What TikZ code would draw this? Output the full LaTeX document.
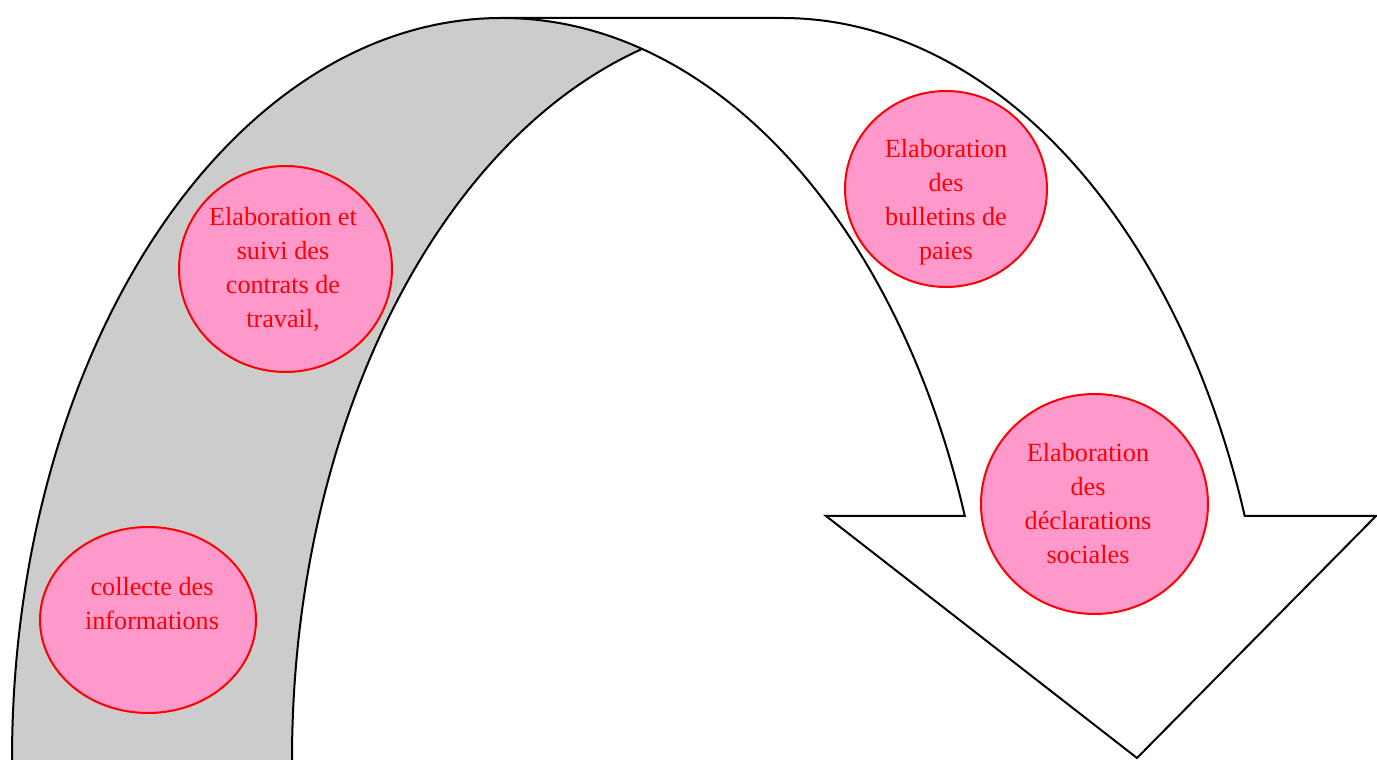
\documentclass[tikz,border=0pt]{standalone}
\usepackage{fontspec}
\setmainfont{Liberation Serif}
\usetikzlibrary{shapes.geometric}
\definecolor{bandgrey}{HTML}{CCCCCC}
\definecolor{bubblepink}{HTML}{FF99CC}
\definecolor{bubblered}{HTML}{FF0000}

\begin{document}
\begin{tikzpicture}[
  x=0.5pt, y=0.5pt,
  band/.style={draw=black, line width=1pt, line join=miter},
  bubble/.style={ellipse, draw=bubblered, fill=bubblepink, line width=1pt, inner sep=0pt},
  txt/.style={text=bubblered, align=center, font=\fontsize{13.1}{17}\selectfont}
]
\useasboundingbox (0,0) rectangle (1377,760);

% shaded tail of the curved arrow
\fill[bandgrey] (12,0) arc[start angle=180, end angle=73.4, x radius=245pt, y radius=371pt]
  arc[start angle=106.6, end angle=180, x radius=245pt, y radius=371pt] -- cycle;

% outline of the curved arrow
\draw[band] (12,0) arc[start angle=180, end angle=90, x radius=245pt, y radius=371pt]
  -- (782,742) arc[start angle=90, end angle=19.2, x radius=245pt, y radius=371pt]
  -- (1376,244) -- (1137,2) -- (826,244) -- (964.8,244)
  arc[start angle=19.2, end angle=90, x radius=245pt, y radius=371pt];
\draw[band] (292,0) arc[start angle=180, end angle=106.6, x radius=245pt, y radius=371pt];

% bubbles
\node[bubble, minimum width=108pt, minimum height=93pt] (collecte) at (148,140) {};
\node[txt] (collecteLbl) at (152,156) {collecte des\\informations};

\node[bubble, minimum width=106.5pt, minimum height=103pt] (contrats) at (285.5,491) {};
\node[txt] (contratsLbl) at (283,491) {Elaboration et\\suivi des\\contrats de\\travail,};

\node[bubble, minimum width=101pt, minimum height=98pt] (bulletins) at (946,571) {};
\node[txt] (bulletinsLbl) at (946,558) {Elaboration\\des\\bulletins de\\paies};

\node[bubble, minimum width=113.5pt, minimum height=110pt] (declarations) at (1094.5,256) {};
\node[txt] (declarationsLbl) at (1088,256) {Elaboration\\des\\déclarations\\sociales};
\end{tikzpicture}
\end{document}
